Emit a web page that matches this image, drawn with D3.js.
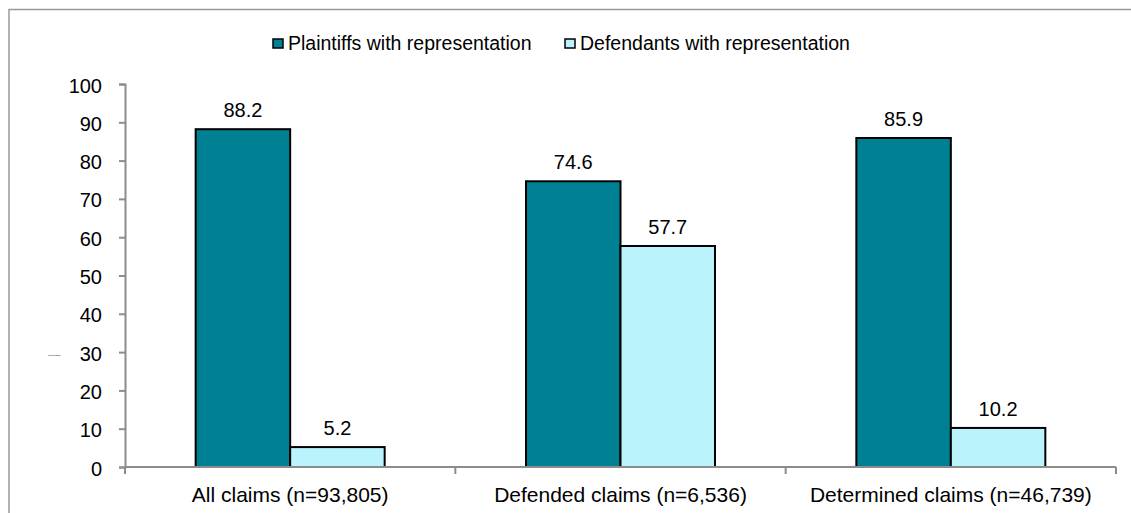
<!DOCTYPE html>
<html>
<head>
<meta charset="utf-8">
<script src="https://cdn.jsdelivr.net/npm/d3@7"></script>
<style>
  body { margin: 0; background: #fff; }
  text { font-family: "Liberation Sans", Arial, sans-serif; fill: #000; }
</style>
</head>
<body>
<svg id="chart" width="1131" height="513"></svg>
<script>
var categories = ["All claims (n=93,805)", "Defended claims (n=6,536)", "Determined claims (n=46,739)"];
var seriesNames = ["Plaintiffs with representation", "Defendants with representation"];
var plaintiffs = [88.2, 74.6, 85.9];
var defendants = [5.2, 57.7, 10.2];
var yTicks = [0, 10, 20, 30, 40, 50, 60, 70, 80, 90, 100];

var colors = ["#008193", "#BAF3FC"];
var axisColor = "#8c8c8c";

var svg = d3.select("#chart");
var margin = { left: 125, right: 15, top: 84, bottom: 46 };
var width = 1131 - margin.left - margin.right;
var height = 513 - margin.top - margin.bottom;

// outer frame (runs off right and bottom edges)
svg.append("rect")
    .attr("x", 9)
    .attr("y", 9.5)
    .attr("width", 1200)
    .attr("height", 600)
    .attr("fill", "none")
    .attr("stroke", "#999")
    .attr("stroke-width", 1.5);

var g = svg.append("g")
    .attr("transform", "translate(" + margin.left + "," + margin.top + ")");

var x0 = d3.scaleBand().domain(categories).range([0, width]);
var x1 = d3.scaleBand().domain([0, 1]).range([0, 189]);
var y = d3.scaleLinear().domain([0, 100]).range([height, 0]);

var rows = categories.map(function(c, i) {
    return { cat: c, values: [plaintiffs[i], defendants[i]] };
});

// y axis
var yAxis = g.append("g")
    .call(d3.axisLeft(y).tickValues(yTicks).tickSize(6).tickPadding(17));
yAxis.select(".domain").attr("stroke", axisColor).attr("stroke-width", 2);
yAxis.selectAll(".tick line").attr("stroke", axisColor).attr("stroke-width", 2);
yAxis.selectAll(".tick text")
    .style("font-size", "20px")
    .attr("dy", "0.4em")
    .attr("fill", "#000");

// bars
var groups = g.selectAll(".grp")
    .data(rows)
    .enter()
    .append("g")
    .attr("class", "grp")
    .attr("transform", function(d) {
        return "translate(" + (x0(d.cat) + x0.bandwidth() / 2 - 94.5) + ",0)";
    });

groups.selectAll("rect")
    .data(function(d) { return d.values; })
    .enter()
    .append("rect")
    .attr("x", function(d, i) { return x1(i); })
    .attr("y", function(d) { return y(d); })
    .attr("width", x1.bandwidth())
    .attr("height", function(d) { return height - y(d); })
    .attr("fill", function(d, i) { return colors[i]; })
    .attr("stroke", "#000")
    .attr("stroke-width", 2);

groups.selectAll(".val")
    .data(function(d) { return d.values; })
    .enter()
    .append("text")
    .attr("class", "val")
    .attr("x", function(d, i) { return x1(i) + x1.bandwidth() / 2; })
    .attr("y", function(d) { return y(d) - 12; })
    .attr("text-anchor", "middle")
    .style("font-size", "20px")
    .text(function(d) { return d.toFixed(1); });

// x axis
var xAxis = g.append("g")
    .attr("transform", "translate(0," + height + ")")
    .call(d3.axisBottom(x0).tickSize(0).tickPadding(0));
xAxis.select(".domain").remove();
xAxis.selectAll(".tick text")
    .style("font-size", "21px")
    .attr("y", 35)
    .attr("dy", 0)
    .attr("fill", "#000");

g.append("line")
    .attr("x1", 0).attr("x2", width)
    .attr("y1", height).attr("y2", height)
    .attr("stroke", axisColor).attr("stroke-width", 2);

g.selectAll(".xsep")
    .data(d3.range(categories.length + 1))
    .enter()
    .append("line")
    .attr("class", "xsep")
    .attr("x1", function(i) { return i * x0.step(); })
    .attr("x2", function(i) { return i * x0.step(); })
    .attr("y1", height)
    .attr("y2", height + 7)
    .attr("stroke", axisColor)
    .attr("stroke-width", 2);

// tiny axis title
svg.append("text")
    .attr("x", 48)
    .attr("y", 356)
    .style("font-size", "2.5px")
    .attr("fill", "#555")
    .text("Percentage");

// legend
var legendX = [273, 565];
var legend = svg.selectAll(".leg")
    .data(seriesNames)
    .enter()
    .append("g")
    .attr("class", "leg")
    .attr("transform", function(d, i) { return "translate(" + legendX[i] + ",39)"; });

legend.append("rect")
    .attr("width", 10)
    .attr("height", 9)
    .attr("fill", function(d, i) { return colors[i]; })
    .attr("stroke", "#000")
    .attr("stroke-width", 1.5);

legend.append("text")
    .attr("x", 15)
    .attr("y", 11)
    .style("font-size", "19.5px")
    .text(function(d) { return d; });
</script>
</body>
</html>
